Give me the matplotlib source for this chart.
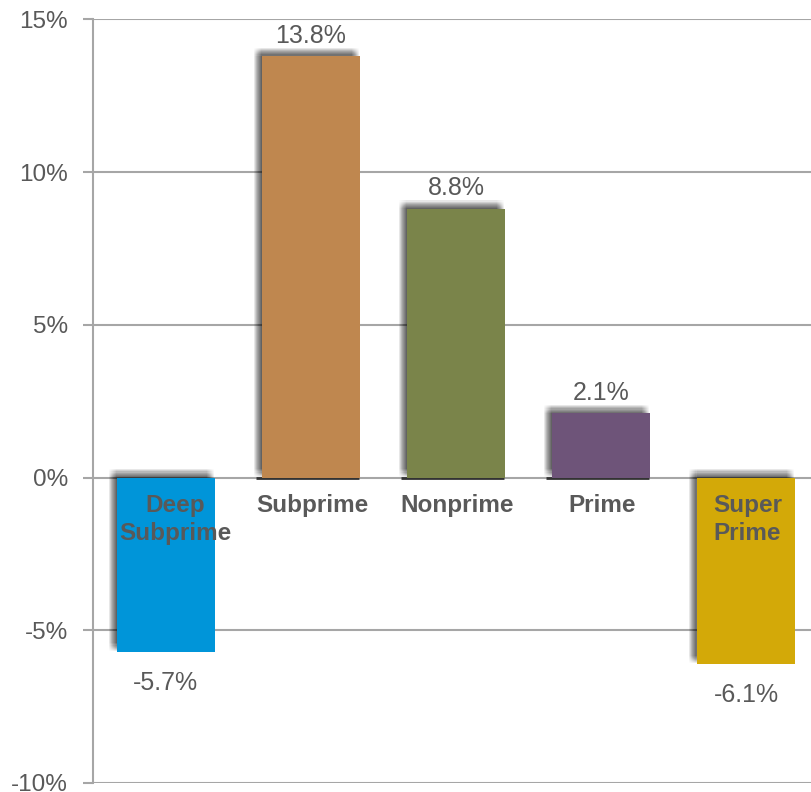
import matplotlib.pyplot as plt
import matplotlib.patheffects as pe
from matplotlib.ticker import FuncFormatter

categories = ['Deep\nSubprime', 'Subprime', 'Nonprime', 'Prime', 'Super\nPrime']
changes = [-5.7, 13.8, 8.8, 2.1, -6.1]
colors = ['#0095d9', '#bf874f', '#7a844a', '#6e5479', '#d3a908']

plt.rcParams['font.family'] = ['Liberation Sans', 'DejaVu Sans']
txt_gray = '#595959'
grid_gray = '#a6a6a6'

fig = plt.figure(figsize=(8.12, 7.92), dpi=100)
ax = fig.add_axes([0.1145, 0.0114, 0.8855, 0.964])

# soft drop shadow up and to the left of every bar
shadow = []
steps = [0.4, 1.2, 2.0, 2.8, 3.6, 4.4, 5.2, 6.0]
for dx in steps:
    for dy in steps:
        shadow.append(pe.SimplePatchShadow(offset=(-dx, dy), shadow_rgbFace='black', alpha=0.012))
shadow.append(pe.Normal())

x = range(len(changes))
bars = ax.bar(x, changes, width=0.675, color=colors, zorder=3)
for b in bars:
    b.set_path_effects(shadow)

# base line under each bar
for i, v in zip(x, changes):
    if v > 0:
        ax.plot([i - 0.38, i + 0.33], [0, 0], color='#333333', lw=2, zorder=2.5,
                solid_capstyle='butt')

# value labels
for i, v in zip(x, changes):
    if v >= 0:
        ax.annotate(f'{v:.1f}%', (i, v), xytext=(0, 6), textcoords='offset points',
                    ha='center', va='bottom', fontsize=18, color=txt_gray)
    else:
        ax.annotate(f'{v:.1f}%', (i, v), xytext=(0, -14), textcoords='offset points',
                    ha='center', va='top', fontsize=18, color=txt_gray)

# category names sit just under the zero line
for i, c in zip(x, categories):
    dx = 7 if i == 0 else 1
    ax.annotate(c, (i, 0), xytext=(dx, -12), textcoords='offset points',
                ha='center', va='top', fontsize=17.5, fontweight='bold',
                color=txt_gray, linespacing=1.25, zorder=5)

ax.set_ylim(-10, 15)
ax.set_xlim(-0.503, 4.455)
ax.set_yticks(range(-10, 16, 5))
ax.yaxis.set_major_formatter(FuncFormatter(lambda v, p: f'{v:.0f}%'))
ax.tick_params(axis='y', length=7, width=1.5, color=grid_gray, labelsize=17.5,
               labelcolor=txt_gray, pad=11)
ax.set_xticks([])
ax.grid(axis='y', color=grid_gray, lw=1.5, zorder=0)
ax.set_axisbelow(True)
for s in ['top', 'right', 'bottom']:
    ax.spines[s].set_visible(False)
ax.spines['left'].set_color(grid_gray)
ax.spines['left'].set_linewidth(1.5)

fig.savefig('out.png', dpi=100)
